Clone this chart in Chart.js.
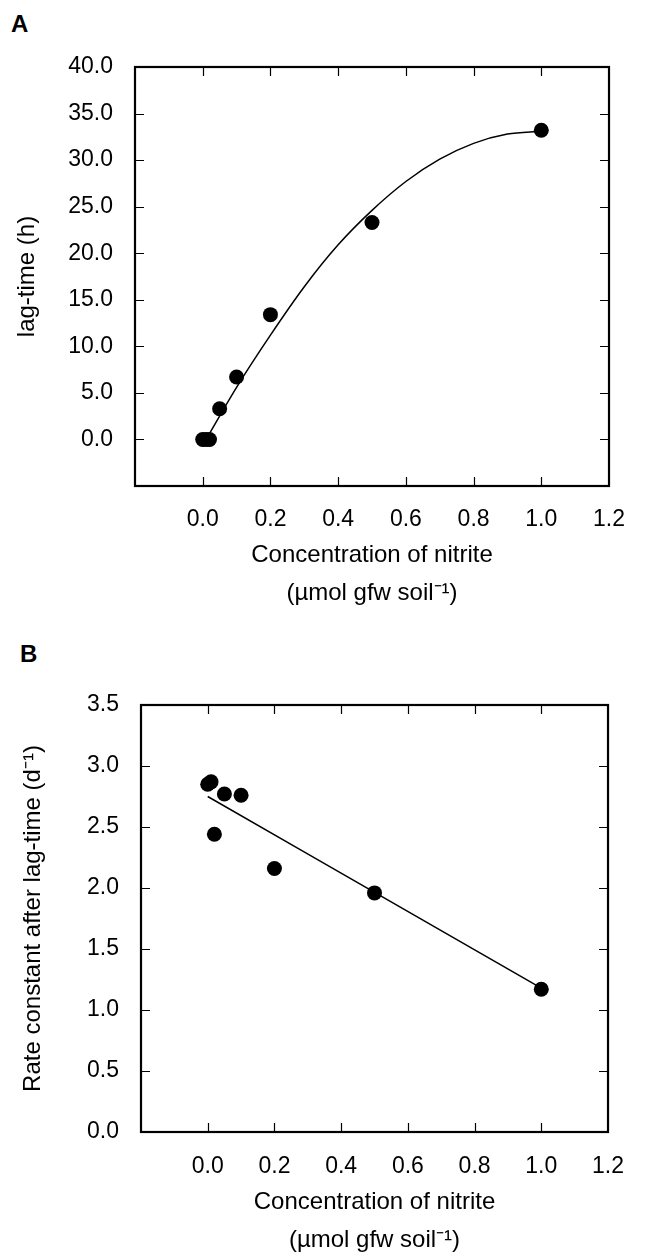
<!DOCTYPE html>
<html>
<head>
<meta charset="utf-8">
<script src="https://cdn.jsdelivr.net/npm/chart.js@4/dist/chart.umd.min.js"></script>
<style>
  body { margin: 0; background: #fff; width: 645px; height: 1253px; overflow: hidden; position: relative; }
  canvas { position: absolute; left: 0; }
  .panel { position: absolute; font: bold 24px/24px "Liberation Sans", Arial, sans-serif; color: #000; }
</style>
</head>
<body>
<div class="panel" style="left:11px; top:12px;">A</div>
<div class="panel" style="left:20px; top:642px;">B</div>
<canvas id="chartA" width="645" height="620" style="top:0"></canvas>
<canvas id="chartB" width="645" height="660" style="top:620px"></canvas>
<script>
// Nitrite concentration (umol gfw soil-1)
var nitrite = [0, 0.01, 0.02, 0.05, 0.1, 0.2, 0.5, 1.0];

// Panel A: lag-time (h)
var lagTime = [0, 0, 0, 3.3, 6.7, 13.4, 23.3, 33.2];
// fitted curve
var lagFitX = [0.01, 0.1, 0.2, 0.3, 0.4, 0.5, 0.6, 0.7, 0.8, 0.9, 1.0];
var lagFitY = [0, 5.6, 11.2, 16.4, 20.9, 24.6, 27.7, 30.1, 31.8, 32.8, 33.1];

// Panel B: rate constant after lag-time (d-1)
var rateConst = [2.85, 2.87, 2.44, 2.77, 2.76, 2.16, 1.96, 1.17];
var rateFitX = [0, 1.0];
var rateFitY = [2.75, 1.18];

var xTitle = ['Concentration of nitrite', '(\u00b5mol gfw soil\u207b\u00b9)'];

Chart.defaults.color = '#000';
Chart.defaults.font.family = '"Liberation Sans", Arial, sans-serif';

function toPoints(xs, ys) {
    return xs.map((x, i) => ({ x: x, y: ys[i] }));
}

// one decimal, hide the labels below zero, no "-0.0"
function tickLabel(v) {
    if (v < -1e-6) return '';
    return (Math.abs(v) < 1e-6 ? 0 : v).toFixed(1);
}

// frame round the plot area with inward tick marks on all four sides
var framePlugin = {
    id: 'frame',
    afterDraw: function(chart) {
        var ctx = chart.ctx, a = chart.chartArea;
        var xs = chart.scales.x, ys = chart.scales.y;
        ctx.save();
        ctx.strokeStyle = '#000';
        ctx.lineWidth = 1.2;
        ctx.beginPath();
        xs.ticks.forEach(t => {
            if (t.value <= xs.min + 1e-9 || t.value >= xs.max - 1e-9) return;
            var px = Math.round(xs.getPixelForValue(t.value)) + 0.5;
            ctx.moveTo(px, a.bottom); ctx.lineTo(px, a.bottom - 9);
            ctx.moveTo(px, a.top); ctx.lineTo(px, a.top + 9);
        });
        ys.ticks.forEach(t => {
            if (t.value <= ys.min + 1e-9 || t.value >= ys.max - 1e-9) return;
            var py = Math.round(ys.getPixelForValue(t.value)) + 0.5;
            ctx.moveTo(a.left, py); ctx.lineTo(a.left + 9, py);
            ctx.moveTo(a.right, py); ctx.lineTo(a.right - 9, py);
        });
        ctx.stroke();
        ctx.lineWidth = 2.2;
        ctx.strokeRect(a.left, a.top, a.right - a.left, a.bottom - a.top);
        ctx.restore();
    }
};

function makeChart(id, cfg) {
    return new Chart(document.getElementById(id).getContext('2d'), {
        type: 'scatter',
        data: {
            datasets: [
                {
                    data: toPoints(cfg.fitX, cfg.fitY),
                    showLine: true,
                    borderColor: '#000',
                    borderWidth: 1.5,
                    pointRadius: 0,
                    tension: cfg.tension,
                    cubicInterpolationMode: 'monotone'
                },
                {
                    data: toPoints(nitrite, cfg.values),
                    backgroundColor: '#000',
                    borderColor: '#000',
                    pointRadius: 7.5,
                    borderWidth: 0
                }
            ]
        },
        options: {
            responsive: false,
            animation: false,
            layout: { padding: cfg.padding },
            scales: {
                x: {
                    min: -0.2, max: 1.2,
                    grid: { display: false, drawTicks: false },
                    border: { display: false },
                    afterFit: s => { s.height = cfg.xHeight; },
                    ticks: {
                        stepSize: 0.2,
                        padding: cfg.xPad,
                        maxRotation: 0,
                        font: { size: 23 },
                        callback: tickLabel
                    },
                    title: {
                        display: true,
                        text: xTitle,
                        font: { size: 24, lineHeight: 1.58 },
                        padding: { top: 0, bottom: cfg.xTitlePad }
                    }
                },
                y: {
                    min: cfg.yMin, max: cfg.yMax,
                    grid: { display: false, drawTicks: false },
                    border: { display: false },
                    afterFit: s => { s.width = cfg.yWidth; },
                    ticks: {
                        stepSize: cfg.yStep,
                        padding: 22,
                        font: { size: 23 },
                        callback: tickLabel
                    },
                    title: {
                        display: true,
                        text: cfg.yTitle,
                        font: { size: 24 },
                        padding: { top: cfg.yTitlePad, bottom: 0 }
                    }
                }
            },
            plugins: {
                legend: { display: false },
                tooltip: { enabled: false }
            }
        },
        plugins: [framePlugin]
    });
}

makeChart('chartA', {
    values: lagTime, fitX: lagFitX, fitY: lagFitY, tension: 0.4,
    yMin: -5, yMax: 40, yStep: 5, yTitle: 'lag-time (h)',
    padding: { top: 67, right: 35, left: 0, bottom: 0 },
    yWidth: 135, xHeight: 134, xPad: 20, xTitlePad: 8, yTitlePad: 13
});

makeChart('chartB', {
    values: rateConst, fitX: rateFitX, fitY: rateFitY, tension: 0,
    yMin: 0, yMax: 3.5, yStep: 0.5, yTitle: 'Rate constant after lag-time (d\u207b\u00b9)',
    padding: { top: 85, right: 20, left: 0, bottom: 0 },
    yWidth: 141, xHeight: 148, xPad: 21, xTitlePad: 21, yTitlePad: 19
});
</script>
</body>
</html>
